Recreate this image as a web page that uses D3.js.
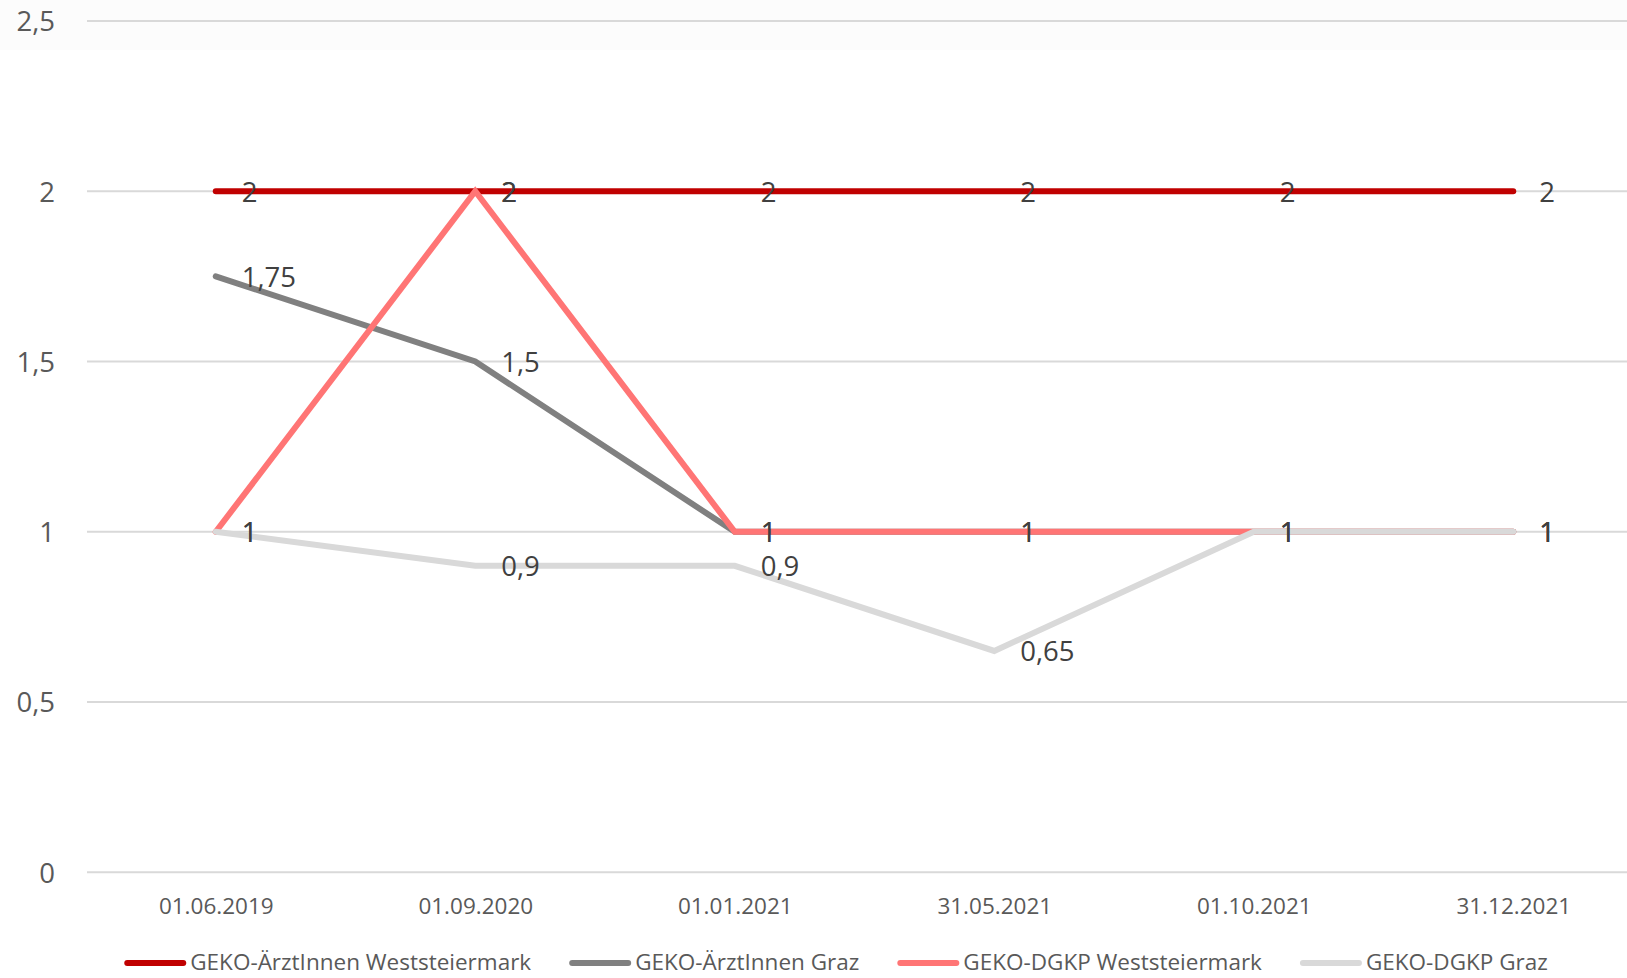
<!DOCTYPE html>
<html>
<head>
<meta charset="utf-8">
<script src="https://cdn.jsdelivr.net/npm/d3@7"></script>
<style>
  body { margin: 0; background: #ffffff; }
  svg { display: block; font-family: "Open Sans", sans-serif; }
</style>
</head>
<body>
<div id="container"></div>
<script>
const width = 1627;
const height = 978;

// data
const dates = ["01.06.2019", "01.09.2020", "01.01.2021", "31.05.2021", "01.10.2021", "31.12.2021"];
const seriesNames = ["GEKO-ÄrztInnen Weststeiermark", "GEKO-ÄrztInnen Graz", "GEKO-DGKP Weststeiermark", "GEKO-DGKP Graz"];
const aerzteWest = [2, 2, 2, 2, 2, 2];
const aerzteGraz = [1.75, 1.5, 1, 1, 1, 1];
const dgkpWest = [1, 2, 1, 1, 1, 1];
const dgkpGraz = [1, 0.9, 0.9, 0.65, 1, 1];
const yTicks = [0, 0.5, 1, 1.5, 2, 2.5];
const colors = ["#c00000", "#808080", "#ff7575", "#d9d9d9"];

const slices = [aerzteWest, aerzteGraz, dgkpWest, dgkpGraz].map(function(vals, i) {
    return {
        id: seriesNames[i],
        color: colors[i],
        values: vals.map(function(v, j) { return { date: dates[j], measurement: v }; })
    };
});

const svg = d3.select("div#container")
    .append("svg")
    .attr("width", width)
    .attr("height", height);

// very faint band at the top of the picture
svg.append("rect")
    .attr("x", 0).attr("y", 0)
    .attr("width", width).attr("height", 50)
    .attr("fill", "#fcfcfc");

const xScale = d3.scalePoint().domain(dates).range([86, 1643]).padding(0.5);
const yScale = d3.scaleLinear().domain([0, 2.5]).range([872.3, 21]);

const fmt = function(v) { return String(v).replace(".", ","); };

// gridlines
svg.append("g")
    .selectAll("line")
    .data(yTicks)
    .enter()
    .append("line")
    .attr("x1", 87)
    .attr("x2", width)
    .attr("y1", function(d) { return yScale(d); })
    .attr("y2", function(d) { return yScale(d); })
    .attr("stroke", "#d9d9d9")
    .attr("stroke-width", 2);

// y axis labels
const yaxis = d3.axisLeft(yScale)
    .tickValues(yTicks)
    .tickSize(0)
    .tickPadding(0)
    .tickFormat(fmt);

const yg = svg.append("g")
    .attr("transform", "translate(55,0)")
    .call(yaxis);
yg.select(".domain").remove();
yg.selectAll("text")
    .attr("fill", "#595959")
    .style("font-size", "27.5px")
    .style("font-family", "'Open Sans', sans-serif")
    .attr("dy", "0.36em");

// x axis labels
const xaxis = d3.axisBottom(xScale).tickSize(0).tickPadding(0);
const xg = svg.append("g")
    .attr("transform", "translate(0,914)")
    .call(xaxis);
xg.select(".domain").remove();
xg.selectAll("text")
    .attr("fill", "#595959")
    .attr("dy", 0)
    .style("font-size", "22.5px")
    .style("font-family", "'Open Sans', sans-serif");

const line = d3.line()
    .x(function(d) { return xScale(d.date); })
    .y(function(d) { return yScale(d.measurement); });

const lines = svg.selectAll("g.serie")
    .data(slices)
    .enter()
    .append("g")
    .attr("class", "serie");

lines.append("path")
    .attr("d", function(d) { return line(d.values); })
    .attr("fill", "none")
    .attr("stroke", function(d) { return d.color; })
    .attr("stroke-width", 6)
    .attr("stroke-linecap", "round")
    .attr("stroke-linejoin", "miter");

// data labels
svg.append("g")
    .selectAll("g")
    .data(slices)
    .enter()
    .append("g")
    .selectAll("text")
    .data(function(d) { return d.values; })
    .enter()
    .append("text")
    .attr("x", function(d) { return xScale(d.date) + 26; })
    .attr("y", function(d) { return yScale(d.measurement); })
    .attr("dy", "0.38em")
    .attr("fill", "#404040")
    .style("font-size", "27.5px")
    .text(function(d) { return fmt(d.measurement); });

// legend
const legend = svg.append("g").attr("class", "legend");
const items = legend.selectAll("g")
    .data(slices)
    .enter()
    .append("g");

items.append("line")
    .attr("x1", 3).attr("x2", 59)
    .attr("y1", 0).attr("y2", 0)
    .attr("stroke", function(d) { return d.color; })
    .attr("stroke-width", 6)
    .attr("stroke-linecap", "round");

items.append("text")
    .attr("x", 66)
    .attr("y", 7)
    .attr("fill", "#595959")
    .style("font-size", "22.5px")
    .text(function(d) { return d.id; });

let offset = 0;
items.each(function() {
    const g = d3.select(this);
    const w = 66 + g.select("text").node().getComputedTextLength();
    g.attr("transform", "translate(" + offset + ",0)");
    offset += w + 38;
});
const total = offset - 38;
legend.attr("transform", "translate(" + (836 - total / 2) + ",963)");
</script>
</body>
</html>
